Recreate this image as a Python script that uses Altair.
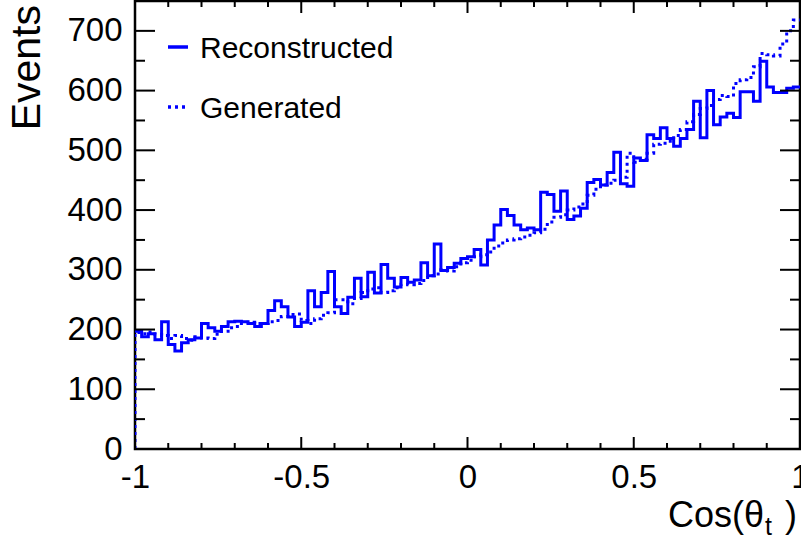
import altair as alt
import numpy as np
import pandas as pd

# ---------------- data ----------------
N_BINS = 100
X_MIN, X_MAX = -1.0, 1.0
series_names = ["Reconstructed", "Generated"]

reconstructed = [
    197, 188, 193, 183, 213, 175, 164, 178, 183, 186,
    210, 203, 197, 205, 213, 214, 213, 210, 205, 210,
    232, 248, 238, 221, 205, 212, 265, 238, 262, 297,
    238, 227, 254, 286, 255, 296, 261, 309, 286, 271,
    287, 279, 283, 312, 290, 343, 299, 304, 311, 319,
    322, 334, 308, 350, 375, 401, 391, 375, 367, 370,
    367, 430, 426, 398, 432, 384, 390, 403, 446, 451,
    442, 463, 497, 444, 440, 487, 483, 526, 520, 538,
    520, 507, 520, 535, 582, 521, 600, 543, 556, 562,
    555, 598, 598, 582, 649, 606, 597, 597, 604, 606,
]

generated = [
    195, 193, 196, 192, 190, 185, 190, 185, 182, 188,
    186, 185, 192, 197, 203, 205, 210, 212, 210, 210,
    213, 215, 222, 225, 226, 215, 210, 218, 224, 228,
    250, 250, 243, 252, 262, 268, 270, 262, 265, 270,
    276, 275, 277, 282, 290, 293, 300, 298, 305, 312,
    316, 322, 325, 330, 340, 345, 350, 352, 355, 358,
    362, 368, 380, 388, 392, 400, 405, 410, 425, 435,
    442, 445, 450, 455, 495, 480, 485, 495, 510, 512,
    515, 525, 535, 548, 560, 570, 575, 585, 592, 590,
    612, 618, 622, 640, 662, 660, 658, 678, 700, 718,
]

x_major = [-1, -0.5, 0, 0.5, 1]
x_minor = [-0.9, -0.8, -0.7, -0.6, -0.4, -0.3, -0.2, -0.1,
           0.1, 0.2, 0.3, 0.4, 0.6, 0.7, 0.8, 0.9]
y_major = [0, 100, 200, 300, 400, 500, 600, 700]
y_minor = [50, 150, 250, 350, 450, 550, 650]
Y_MAX = 750

x_title = "Cos(θ"
x_title_sub = "t"
y_title = "Events"

# ---------------- layout ----------------
W, H = 665, 448
BLUE = "#0000ff"
FONT = "Liberation Sans"
TICK_FS = 33

edges = np.linspace(X_MIN, X_MAX, N_BINS + 1)


def hist_rows(name, vals, start_from_zero):
    rows = []
    o = 0
    if start_from_zero:
        rows.append(dict(x=edges[0], y=0, series=name, order=o))
        o += 1
    for k, v in enumerate(vals):
        rows.append(dict(x=edges[k], y=v, series=name, order=o))
        o += 1
    rows.append(dict(x=edges[-1], y=vals[-1], series=name, order=o))
    return rows


df = pd.DataFrame(hist_rows(series_names[0], reconstructed, False)
                  + hist_rows(series_names[1], generated, True))

xscale = alt.Scale(domain=[X_MIN, X_MAX], nice=False, zero=False)
yscale = alt.Scale(domain=[0, Y_MAX], nice=False, zero=True)

xaxis = alt.Axis(values=x_major, labelExpr="toString(datum.value)", ticks=False,
                 tickSize=0, domain=False, grid=False, labelFontSize=TICK_FS,
                 labelFont=FONT, labelColor="black", labelPadding=38,
                 labelBaseline="alphabetic",
                 labelFlush=False, labelOverlap=False, title=None)
yaxis = alt.Axis(values=y_major, ticks=False, tickSize=0, domain=False, grid=False,
                 labelFontSize=TICK_FS, labelFont=FONT, labelColor="black",
                 labelPadding=13, labelFlush=False, labelOverlap=False, title=None)

base = alt.Chart(df)

reco = base.transform_filter(alt.datum.series == series_names[0]).mark_line(
    interpolate="step-after", color=BLUE, strokeWidth=3, clip=True
).encode(
    x=alt.X("x:Q", scale=xscale, axis=xaxis),
    y=alt.Y("y:Q", scale=yscale, axis=yaxis),
    order="order:Q",
)

gen = base.transform_filter(alt.datum.series == series_names[1]).mark_line(
    interpolate="step-after", color=BLUE, strokeWidth=3, strokeDash=[3, 4], clip=True
).encode(
    x=alt.X("x:Q", scale=xscale),
    y=alt.Y("y:Q", scale=yscale),
    order="order:Q",
)

# ---------------- inward ticks (ROOT style) ----------------
tick_style = dict(color="black", strokeWidth=2)

bottom_major = alt.Chart(pd.DataFrame({"v": x_major})).mark_rule(**tick_style).encode(
    x=alt.X("v:Q", scale=xscale), y=alt.value(H), y2=alt.value(H - 12))
bottom_minor = alt.Chart(pd.DataFrame({"v": x_minor})).mark_rule(**tick_style).encode(
    x=alt.X("v:Q", scale=xscale), y=alt.value(H), y2=alt.value(H - 6))
top_major = alt.Chart(pd.DataFrame({"v": x_major})).mark_rule(**tick_style).encode(
    x=alt.X("v:Q", scale=xscale), y=alt.value(0), y2=alt.value(12))
top_minor = alt.Chart(pd.DataFrame({"v": x_minor})).mark_rule(**tick_style).encode(
    x=alt.X("v:Q", scale=xscale), y=alt.value(0), y2=alt.value(6))
left_major = alt.Chart(pd.DataFrame({"v": y_major})).mark_rule(**tick_style).encode(
    y=alt.Y("v:Q", scale=yscale), x=alt.value(0), x2=alt.value(20))
left_minor = alt.Chart(pd.DataFrame({"v": y_minor})).mark_rule(**tick_style).encode(
    y=alt.Y("v:Q", scale=yscale), x=alt.value(0), x2=alt.value(10))
right_major = alt.Chart(pd.DataFrame({"v": y_major})).mark_rule(**tick_style).encode(
    y=alt.Y("v:Q", scale=yscale), x=alt.value(W), x2=alt.value(W - 20))
right_minor = alt.Chart(pd.DataFrame({"v": y_minor})).mark_rule(**tick_style).encode(
    y=alt.Y("v:Q", scale=yscale), x=alt.value(W), x2=alt.value(W - 10))

# ---------------- legend (no box) ----------------
leg_df = pd.DataFrame({"name": series_names})
leg_reco_line = alt.Chart(leg_df).mark_rule(color=BLUE, strokeWidth=3).encode(
    x=alt.value(33), x2=alt.value(53), y=alt.value(46))
leg_gen_line = alt.Chart(leg_df).mark_rule(color=BLUE, strokeWidth=3, strokeDash=[3, 4]).encode(
    x=alt.value(33), x2=alt.value(53), y=alt.value(106))
leg_reco_txt = alt.Chart(pd.DataFrame({"t": [series_names[0]]})).mark_text(
    align="left", baseline="alphabetic", fontSize=30, font=FONT, color="black").encode(
    x=alt.value(65), y=alt.value(57), text="t:N")
leg_gen_txt = alt.Chart(pd.DataFrame({"t": [series_names[1]]})).mark_text(
    align="left", baseline="alphabetic", fontSize=30, font=FONT, color="black").encode(
    x=alt.value(65), y=alt.value(117), text="t:N")

# ---------------- axis titles ----------------
ytitle = alt.Chart(pd.DataFrame({"t": [y_title]})).mark_text(
    align="right", baseline="middle", angle=270, fontSize=41, font=FONT, color="black").encode(
    x=alt.value(-107), y=alt.value(4), text="t:N")
xtitle_main = alt.Chart(pd.DataFrame({"t": [x_title]})).mark_text(
    align="right", baseline="alphabetic", fontSize=36, font=FONT, color="black").encode(
    x=alt.value(629), y=alt.value(526), text="t:N")
xtitle_sub = alt.Chart(pd.DataFrame({"t": [x_title_sub]})).mark_text(
    align="left", baseline="alphabetic", fontSize=25, font=FONT, color="black").encode(
    x=alt.value(630), y=alt.value(534), text="t:N")
xtitle_close = alt.Chart(pd.DataFrame({"t": [")"]})).mark_text(
    align="left", baseline="alphabetic", fontSize=36, font=FONT, color="black").encode(
    x=alt.value(650), y=alt.value(526), text="t:N")

chart = alt.layer(
    reco, gen,
    bottom_major, bottom_minor, top_major, top_minor,
    left_major, left_minor, right_major, right_minor,
    leg_reco_line, leg_gen_line, leg_reco_txt, leg_gen_txt,
    ytitle, xtitle_main, xtitle_sub, xtitle_close,
).properties(
    width=W, height=H,
    padding={"left": 135, "top": 1, "right": 1, "bottom": 91},
    autosize=alt.AutoSizeParams(type="none"),
    background="white",
).configure_view(
    stroke="black", strokeWidth=2.5
)

chart.save("out.html", embed_options={"renderer": "svg", "actions": False})
